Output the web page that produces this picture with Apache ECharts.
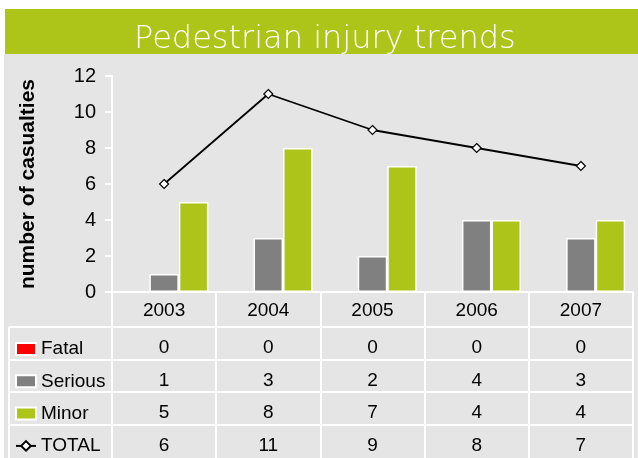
<!DOCTYPE html>
<html>
<head>
<meta charset="utf-8">
<script src="https://cdn.jsdelivr.net/npm/echarts@6/dist/echarts.min.js"></script>
<style>
  html,body{margin:0;padding:0;background:#fff;}
  #chart{width:638px;height:458px;}
</style>
</head>
<body>
<div id="chart"></div>
<script>
// data
const years=['2003','2004','2005','2006','2007'];
const fatal=[0,0,0,0,0];
const serious=[1,3,2,4,3];
const minor=[5,8,7,4,4];
const total=[6,11,9,8,7];

const GREEN='#ADC418';
const GREY='#808080';
const BG='#E5E5E5';
const FONT='"Liberation Sans", Arial, sans-serif';
const FS=19;

// table rows under the plot (values shown per year)
const tableRows=[fatal,serious,minor,total];
const rowOffsets=[35,68,100,133];
const rowTicks=[33,32,33,33];

const white={color:'#fff',width:2};

const xAxes=[{
    type:'category',
    data:years,
    axisLine:{lineStyle:white},
    axisTick:{show:true,length:35,lineStyle:white},
    axisLabel:{fontSize:FS,color:'#000',fontFamily:FONT,margin:9}
}].concat(tableRows.map((vals,i)=>({
    type:'category',
    data:years,
    position:'bottom',
    offset:rowOffsets[i],
    axisLine:{lineStyle:white},
    axisTick:{show:true,length:rowTicks[i],lineStyle:white},
    axisLabel:{fontSize:FS,color:'#000',fontFamily:FONT,margin:11,
        formatter:(v,idx)=>String(vals[idx])}
})));

const leftLines=rowOffsets.map(o=>({
    type:'line',z:5,
    shape:{x1:9,y1:292+o,x2:112,y2:292+o},
    style:{stroke:'#fff',lineWidth:2}
}));

const chart=echarts.init(document.getElementById('chart'));
chart.setOption({
    animation:false,
    title:{
        text:'Pedestrian injury trends',
        left:129,top:19,
        textStyle:{color:'#fff',fontSize:32,fontWeight:200,fontFamily:'"DejaVu Sans", sans-serif'}
    },
    graphic:[
        {type:'rect',z:-10,shape:{x:4,y:54,width:634,height:404},style:{fill:BG}},
        {type:'rect',z:-10,shape:{x:5,y:9,width:633,height:45},style:{fill:GREEN}},
        {type:'line',z:5,shape:{x1:9,y1:327,x2:9,y2:458},style:{stroke:'#fff',lineWidth:2}}
    ].concat(leftLines),
    legend:{
        orient:'vertical',
        left:15,top:338,height:120,padding:0,
        itemWidth:20,itemHeight:12,itemGap:10.3,
        textStyle:{fontSize:FS,color:'#000',fontFamily:FONT,lineHeight:22},
        data:[{name:'Fatal',icon:'rect'},{name:'Serious',icon:'rect'},{name:'Minor',icon:'rect'},{name:'TOTAL'}]
    },
    grid:{left:112,right:5,top:76,bottom:166,containLabel:false},
    xAxis:xAxes,
    yAxis:{
        type:'value',min:0,max:12,interval:2,
        name:'number of casualties',
        nameLocation:'middle',nameGap:73,
        nameTextStyle:{fontSize:21,fontWeight:'bold',color:'#000',fontFamily:FONT},
        axisLine:{show:true,lineStyle:white},
        axisTick:{show:true,length:7,lineStyle:white},
        axisLabel:{fontSize:20,color:'#000',fontFamily:FONT,margin:16},
        splitLine:{show:false}
    },
    series:[
        {name:'Fatal',type:'bar',data:fatal,barGap:0,barCategoryGap:'15%',
         itemStyle:{color:'#FF0000',borderColor:'#fff',borderWidth:1.5}},
        {name:'Serious',type:'bar',data:serious,barGap:0,barCategoryGap:'15%',
         itemStyle:{color:GREY,borderColor:'#fff',borderWidth:1.5}},
        {name:'Minor',type:'bar',data:minor,barGap:0,barCategoryGap:'15%',
         itemStyle:{color:GREEN,borderColor:'#fff',borderWidth:1.5}},
        {name:'TOTAL',type:'line',data:total,z:10,
         symbol:'diamond',symbolSize:9,
         lineStyle:{color:'#000',width:1.8},
         itemStyle:{color:'#fff',borderColor:'#000',borderWidth:1.2}}
    ]
});
</script>
</body>
</html>
